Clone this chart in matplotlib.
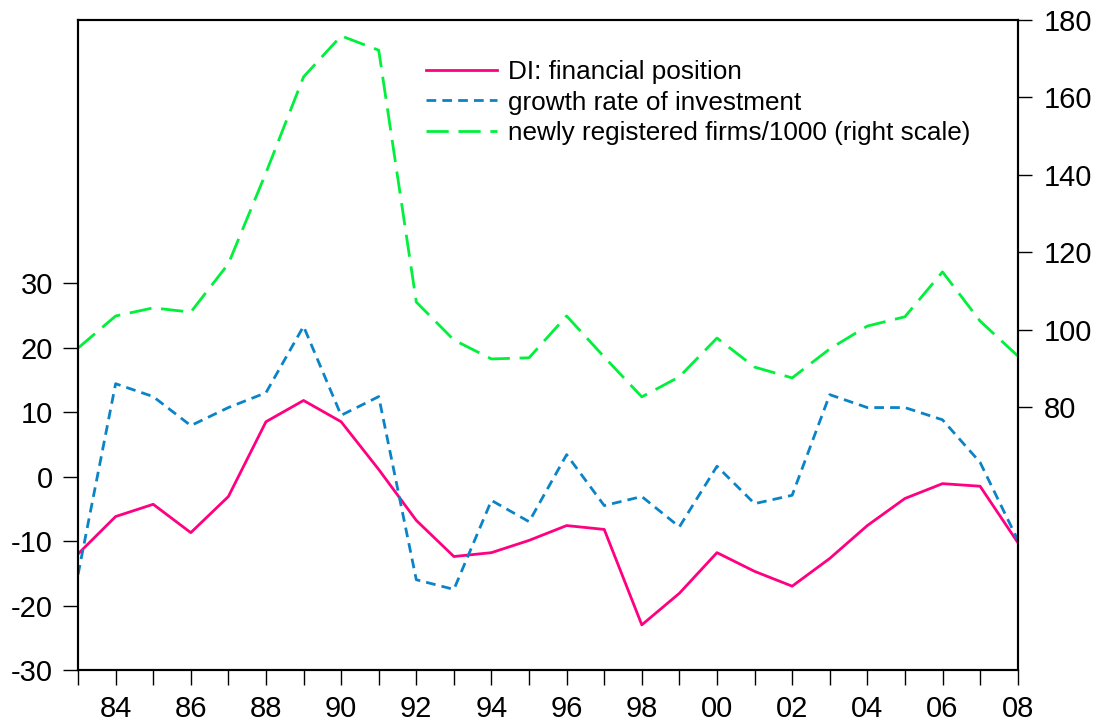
import matplotlib.pyplot as plt
import numpy as np

plt.rcParams['font.family'] = ['Liberation Sans', 'DejaVu Sans']
plt.rcParams['axes.unicode_minus'] = False

years = np.arange(1983, 2009)

# DI: financial position (left scale)
di_financial = [-12.0, -6.2, -4.3, -8.7, -3.1, 8.5, 11.8, 8.5, 1.1, -6.8,
                -12.4, -11.8, -9.9, -7.6, -8.2, -23.0, -18.1, -11.8, -14.7, -17.0,
                -12.7, -7.6, -3.4, -1.1, -1.5, -10.2]

# growth rate of investment (left scale)
inv_growth = [-15.2, 14.4, 12.4, 7.9, 10.7, 13.0, 23.3, 9.5, 12.4, -16.0,
              -17.5, -3.7, -7.0, 3.4, -4.5, -3.1, -7.8, 1.6, -4.2, -2.9,
              12.7, 10.7, 10.7, 8.8, 2.2, -9.8]

# newly registered firms / 1000 (right scale)
new_firms = [95.2, 103.5, 105.6, 104.5, 117.0, 140.5, 165.3, 175.9, 172.2, 107.1,
             97.3, 92.4, 92.7, 103.5, 92.9, 82.6, 87.8, 97.8, 90.3, 87.5,
             95.0, 100.9, 103.3, 114.9, 102.2, 93.2]

left_ticks = [-30, -20, -10, 0, 10, 20, 30]
right_ticks = [80, 100, 120, 140, 160, 180]

fig = plt.figure(figsize=(10.99, 7.23), dpi=100)
ax = fig.add_axes([0.071, 0.0733, 0.855, 0.899])
ax2 = ax.twinx()

l1, = ax.plot(years, di_financial, color='#ff0080', lw=2.0,
              label='DI: financial position')
l2, = ax.plot(years, inv_growth, color='#0a84c6', lw=2.0, dashes=(3.5, 2.2),
              label='growth rate of investment')
l3, = ax2.plot(years, new_firms, color='#00f03c', lw=2.0, dashes=(8, 3.5),
               label='newly registered firms/1000 (right scale)')

ax.set_xlim(1983, 2008)
ax.set_ylim(-30, 70.8)
ax2.set_ylim(12, 180)

ax.set_xticks(years)
ax.set_xticklabels([f'{y % 100:02d}' if y % 2 == 0 else '' for y in years])
ax.set_yticks(left_ticks)
ax2.set_yticks(right_ticks)

ax.tick_params(axis='both', direction='out', length=11, width=1, labelsize=21,
               colors='black')
ax.tick_params(axis='x', pad=7)
ax.tick_params(axis='y', pad=7)
ax2.tick_params(axis='y', direction='out', length=10, width=1, labelsize=21,
                pad=9)

for a in (ax, ax2):
    for s in a.spines.values():
        s.set_linewidth(1.5)

leg = ax.legend(handles=[l1, l2, l3], loc='upper left',
                bbox_to_anchor=(0.378, 0.931), bbox_transform=fig.transFigure,
                frameon=False, fontsize=18.8, handlelength=2.72,
                handletextpad=0.42, labelspacing=0.24, borderaxespad=0)

fig.savefig('out.png', dpi=100)
